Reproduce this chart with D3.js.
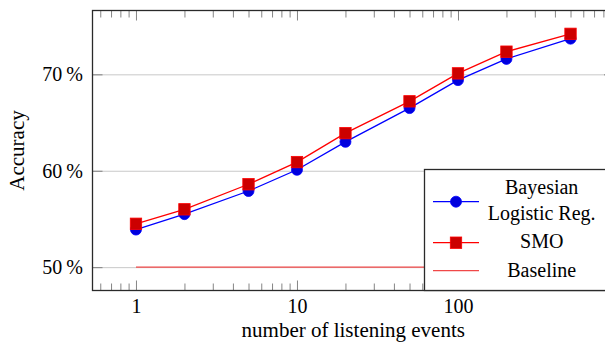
<!DOCTYPE html>
<html>
<head>
<meta charset="utf-8">
<script src="https://cdn.jsdelivr.net/npm/d3@7"></script>
<style>
  body { margin: 0; background: #fff; }
  svg { display: block; }
  svg text { font-family: "Liberation Serif", "Tinos", "Times New Roman", "DejaVu Serif", serif !important; }
</style>
</head>
<body>
<div class="chart-container"></div>
<script>
// data
const events = [1, 2, 5, 10, 20, 50, 100, 200, 500];
const bayesAcc = [53.9, 55.5, 57.9, 60.1, 63.0, 66.5, 69.4, 71.6, 73.7];
const smoAcc = [54.5, 56.0, 58.6, 60.9, 63.9, 67.2, 70.1, 72.35, 74.2];
const baselineEvents = [1, 500];
const baselineAcc = [50, 50];
const xTicks = [1, 10, 100];
const yTicks = [50, 60, 70];
const seriesNames = ["Bayesian\nLogistic Reg.", "SMO", "Baseline"];

const W = 605, H = 345;
const frame = { left: 92.5, top: 10.5, right: 614, bottom: 290.5 };
const serif = "'Liberation Serif', 'Tinos', 'Times New Roman', 'DejaVu Serif', serif";

const svg = d3.select(".chart-container").append("svg")
  .attr("width", W).attr("height", H)
  .attr("font-family", serif);

/* scales: log x with pgfplots style enlarged limits */
const x = d3.scaleLog()
  .domain([Math.pow(10, -0.27), Math.pow(10, 2.969)])
  .range([frame.left, frame.right]);
const y = d3.scaleLinear()
  .domain([47.58, 76.62])
  .range([frame.bottom, frame.top]);

const plotW = frame.right - frame.left;

// horizontal grid
svg.append("g")
  .attr("transform", `translate(${frame.left},0)`)
  .call(d3.axisLeft(y).tickValues(yTicks).tickSize(-plotW).tickFormat(""))
  .call(g => g.select(".domain").remove())
  .call(g => g.selectAll("line").attr("stroke", "#c8c8c8").attr("stroke-width", 1));

// minor x ticks (2..9 per decade) on bottom and top
const minor = [];
for (let e = -1; e <= 2; e++) {
  for (let m = 2; m <= 9; m++) {
    const v = m * Math.pow(10, e);
    if (v > x.domain()[0] && v < x.domain()[1]) minor.push(v);
  }
}
function tickStyle(g) {
  g.attr("font-family", serif);
  g.select(".domain").remove();
  g.selectAll("line").attr("stroke", "#777").attr("stroke-width", 0.9);
}
svg.append("g").attr("transform", `translate(0,${frame.bottom})`)
  .call(d3.axisBottom(x).tickValues(minor).tickSize(-7).tickFormat("")).call(tickStyle);
svg.append("g").attr("transform", `translate(0,${frame.top})`)
  .call(d3.axisTop(x).tickValues(minor).tickSize(-7).tickFormat("")).call(tickStyle);
svg.append("g").attr("transform", `translate(0,${frame.top})`)
  .call(d3.axisTop(x).tickValues(xTicks).tickSize(-10).tickFormat("")).call(tickStyle);

// major x ticks with labels
svg.append("g").attr("transform", `translate(0,${frame.bottom})`)
  .call(d3.axisBottom(x).tickValues(xTicks).tickSize(-10).tickPadding(8.5).tickFormat(d3.format("d")))
  .call(tickStyle)
  .call(g => g.selectAll("text").attr("fill", "#000").attr("font-size", 20));

// major y ticks left (with labels) and right
svg.append("g").attr("transform", `translate(${frame.left},0)`)
  .call(d3.axisLeft(y).tickValues(yTicks).tickSize(-10).tickPadding(9.5).tickFormat(d => d + "\u2009%"))
  .call(tickStyle)
  .call(g => g.selectAll("text").attr("fill", "#000").attr("x", -9.5).attr("font-size", 20));
svg.append("g").attr("transform", `translate(${frame.right},0)`)
  .call(d3.axisRight(y).tickValues(yTicks).tickSize(-10).tickFormat("")).call(tickStyle);

// series lines
const line = d3.line().x(d => x(d[0])).y(d => y(d[1]));
const bayes = events.map((e, i) => [e, bayesAcc[i]]);
const smo = events.map((e, i) => [e, smoAcc[i]]);
const base = baselineEvents.map((e, i) => [e, baselineAcc[i]]);

svg.append("path").datum(base).attr("d", line)
  .attr("fill", "none").attr("stroke", "#f04848").attr("stroke-width", 1.3);
svg.append("path").datum(bayes).attr("d", line)
  .attr("fill", "none").attr("stroke", "#0000ff").attr("stroke-width", 1.3);
svg.append("path").datum(smo).attr("d", line)
  .attr("fill", "none").attr("stroke", "#ff0000").attr("stroke-width", 1.3);

// markers
svg.append("g").selectAll("circle").data(bayes).enter().append("circle")
  .attr("cx", d => x(d[0])).attr("cy", d => y(d[1])).attr("r", 5.5)
  .attr("fill", "#0000dd").attr("stroke", "#0000ff").attr("stroke-width", 0.8);
svg.append("g").selectAll("rect").data(smo).enter().append("rect")
  .attr("x", d => x(d[0]) - 5.7).attr("y", d => y(d[1]) - 5.7)
  .attr("width", 11.4).attr("height", 11.4)
  .attr("fill", "#cc0000").attr("stroke", "#ff0000").attr("stroke-width", 0.8);

// frame
svg.append("rect")
  .attr("x", frame.left).attr("y", frame.top)
  .attr("width", plotW).attr("height", frame.bottom - frame.top)
  .attr("fill", "none").attr("stroke", "#2a2a2a").attr("stroke-width", 1.3);

// axis labels
svg.append("text")
  .attr("x", (frame.left + frame.right) / 2).attr("y", 337)
  .attr("text-anchor", "middle").attr("font-size", 21)
  .text("number of listening events");
svg.append("text")
  .attr("transform", `translate(23.5,${(frame.top + frame.bottom) / 2}) rotate(-90)`)
  .attr("text-anchor", "middle").attr("font-size", 21)
  .text("Accuracy");

/* legend box, south east corner */
const lg = svg.append("g");
lg.append("rect")
  .attr("x", 424.5).attr("y", 169.5)
  .attr("width", 200).attr("height", frame.bottom - 169.5)
  .attr("fill", "#fff").attr("stroke", "#2a2a2a").attr("stroke-width", 1.3);

const rows = [
  { name: seriesNames[0], my: 201.7, lines: [194.3, 220], color: "#0000ff", mark: "circle" },
  { name: seriesNames[1], my: 242.7, lines: [248.3], color: "#ff0000", mark: "rect" },
  { name: seriesNames[2], my: 270.7, lines: [276.7], color: "#f04848", mark: null }
];
rows.forEach(r => {
  lg.append("line").attr("x1", 433).attr("x2", 479).attr("y1", r.my).attr("y2", r.my)
    .attr("stroke", r.color).attr("stroke-width", 1.3);
  if (r.mark === "circle") {
    lg.append("circle").attr("cx", 456).attr("cy", r.my).attr("r", 5.5)
      .attr("fill", "#0000dd").attr("stroke", "#0000ff").attr("stroke-width", 0.8);
  } else if (r.mark === "rect") {
    lg.append("rect").attr("x", 456 - 5.7).attr("y", r.my - 5.7).attr("width", 11.4).attr("height", 11.4)
      .attr("fill", "#cc0000").attr("stroke", "#ff0000").attr("stroke-width", 0.8);
  }
  r.name.split("\n").forEach((t, i) => {
    lg.append("text").attr("x", 541.7).attr("y", r.lines[i])
      .attr("text-anchor", "middle").attr("font-size", 20).text(t);
  });
});
</script>
</body>
</html>
